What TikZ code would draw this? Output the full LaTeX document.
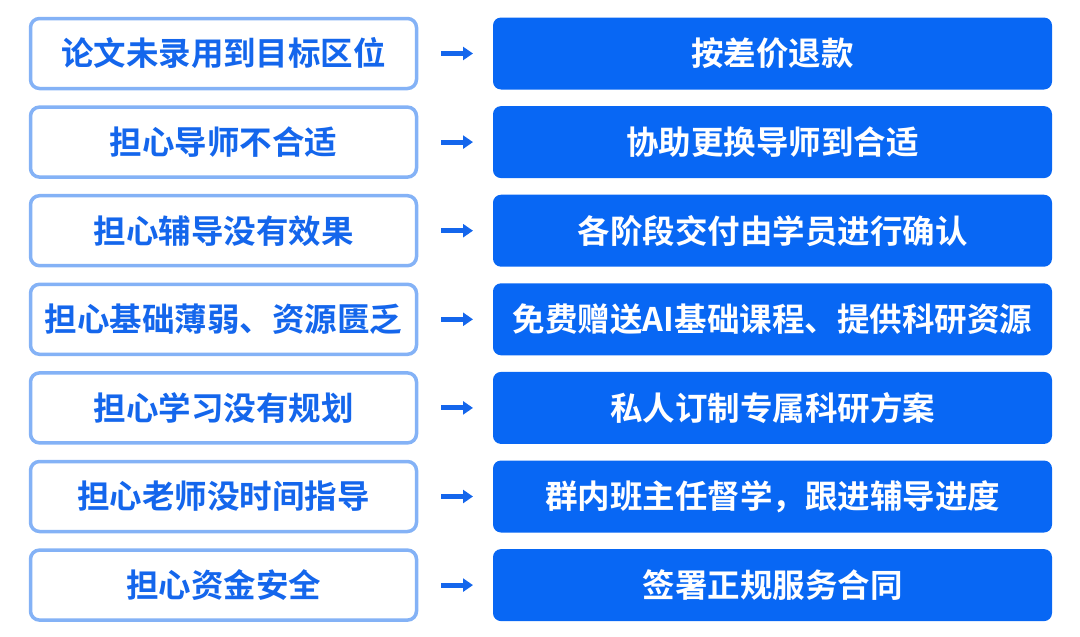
\documentclass[tikz,border=0pt]{standalone}
\usepackage{fontspec}
\newfontfamily\cjk{Noto Sans CJK SC}[BoldFont={* Bold}]
\definecolor{lborder}{HTML}{84B2F6}
\definecolor{ltext}{HTML}{1466EC}
\definecolor{rfill}{HTML}{0867F4}
\definecolor{arr}{HTML}{1466EC}
\tikzset{
  x=1pt,y=-1pt,
  lbox/.style={draw=lborder,line width=3.5pt,fill=white,rounded corners=9pt,minimum width=386pt,minimum height=70pt,inner sep=0pt,font=\cjk\bfseries\fontsize{32.5}{36}\selectfont,text=ltext},
  rbox/.style={fill=rfill,rounded corners=8pt,minimum width=559pt,minimum height=72pt,inner sep=0pt,font=\cjk\bfseries\fontsize{32.5}{36}\selectfont,text=white},
  conn/.style={draw=arr,line width=5pt,-{Triangle[length=10pt,width=13pt]}}
}
\usetikzlibrary{arrows.meta}
\begin{document}
\begin{tikzpicture}
\useasboundingbox (0,0) rectangle (1080,637);
\foreach \i/\l/\r in {
 0/论文未录用到目标区位/按差价退款,
 1/担心导师不合适/协助更换导师到合适,
 2/担心辅导没有效果/各阶段交付由学员进行确认,
 3/担心基础薄弱、资源匮乏/免费赠送AI基础课程、提供科研资源,
 4/担心学习没有规划/私人订制专属科研方案,
 5/担心老师没时间指导/群内班主任督学，跟进辅导进度,
 6/担心资金安全/签署正规服务合同}{
  \pgfmathsetmacro\yy{53.5+88.6*\i}
  \node[lbox] (L\i) at (223.5,\yy) {\l};
  \node[rbox] (R\i) at (772.5,\yy) {\r};
  \coordinate (A\i) at (441,\yy);
  \coordinate (B\i) at (473,\yy);
  \draw[conn] (A\i) -- (B\i);
}
\end{tikzpicture}
\end{document}
